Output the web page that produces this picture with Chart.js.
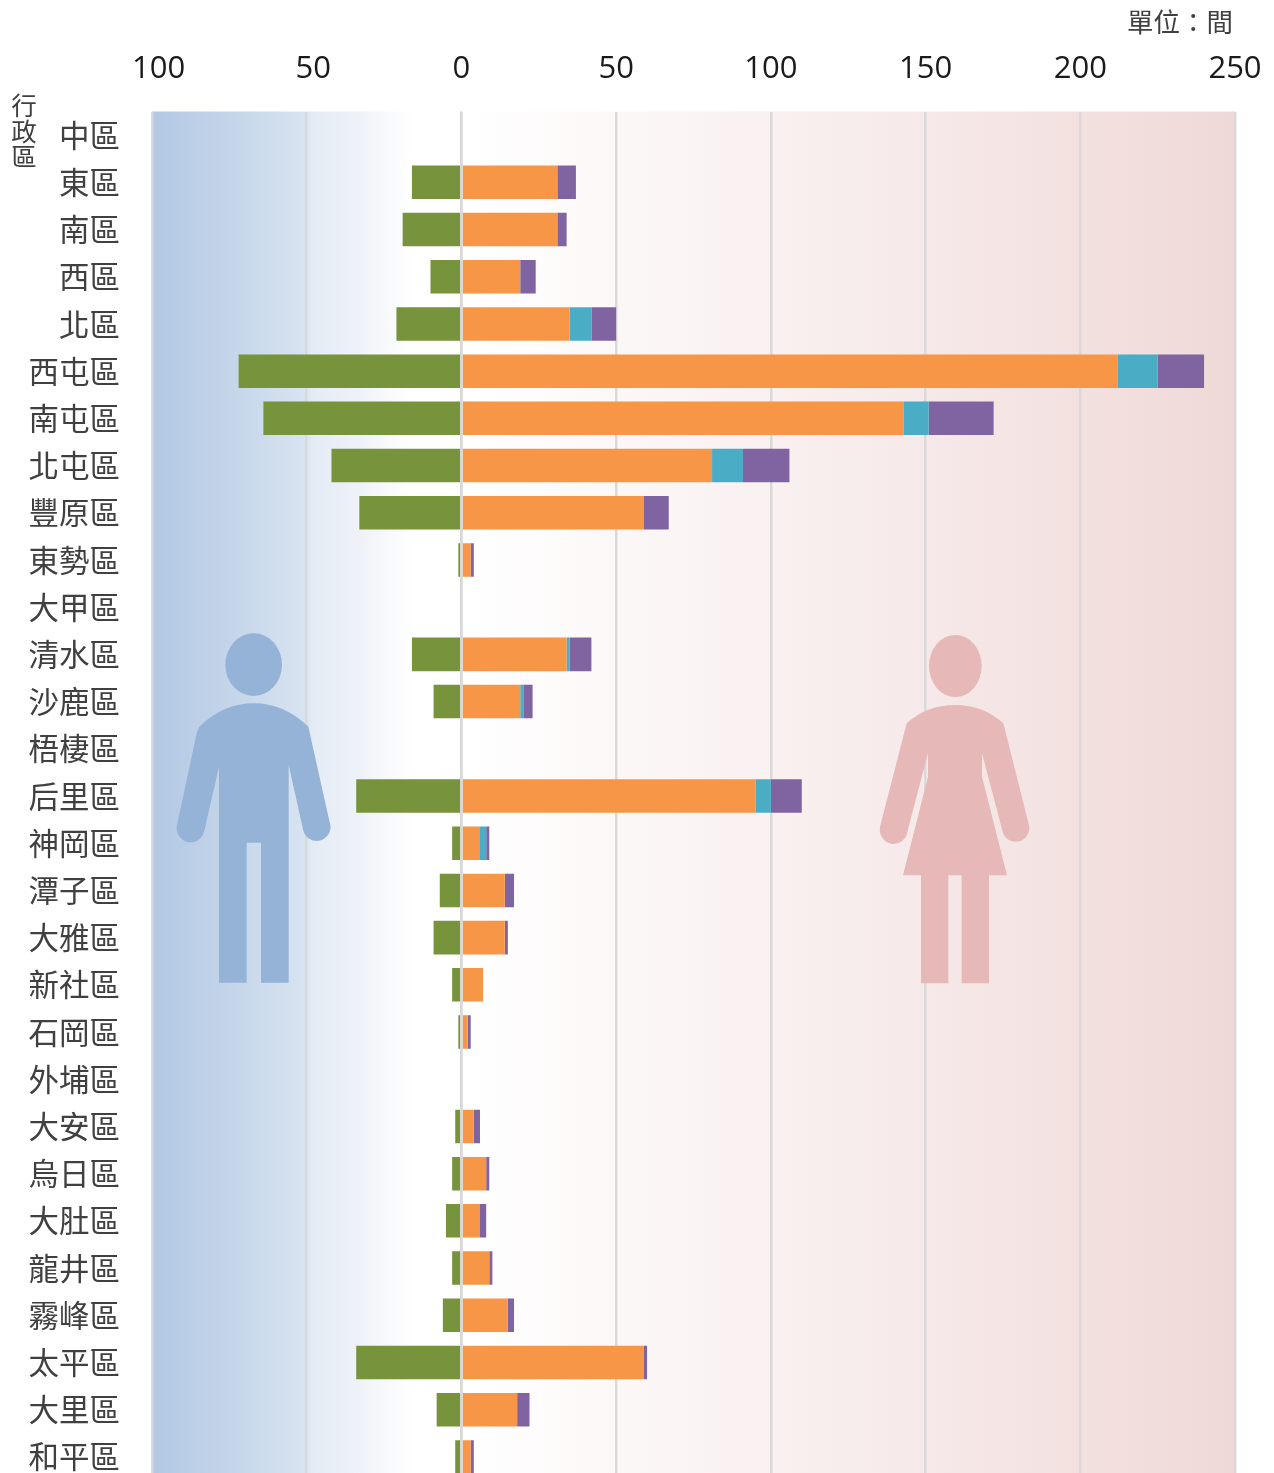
<!DOCTYPE html>
<html lang="zh-Hant">
<head>
<meta charset="utf-8">
<title>行政區 單位：間</title>
<script src="https://cdn.jsdelivr.net/npm/chart.js@4/dist/chart.umd.min.js"></script>
<style>
html, body { margin: 0; padding: 0; background: #fff; }
body { position: relative; width: 1274px; height: 1473px; overflow: hidden; }
canvas { position: absolute; left: 0; top: 0; }
.note { position: absolute; color: #404040; font-family: "Noto Sans CJK TC", sans-serif; line-height: 1; white-space: nowrap; }
#unit { left: 1127px; top: 8px; font-size: 26.5px; }
#axisName { left: 11px; top: 93px; font-size: 25.5px; writing-mode: vertical-rl; }
</style>
</head>
<body>
<canvas id="chart" width="1274" height="1490"></canvas>
<div class="note" id="unit">單位：間</div>
<div class="note" id="axisName">行政區</div>
<script>
/* =====================================
   DATA
===================================== */

const districts = [
    "中區", "東區", "南區", "西區", "北區", "西屯區", "南屯區", "北屯區",
    "豐原區", "東勢區", "大甲區", "清水區", "沙鹿區", "梧棲區", "后里區",
    "神岡區", "潭子區", "大雅區", "新社區", "石岡區", "外埔區", "大安區",
    "烏日區", "大肚區", "龍井區", "霧峰區", "太平區", "大里區", "和平區"
];

const greenValues = [
    0, -16, -19, -10, -21, -72, -64, -42, -33, -1, 0, -16, -9, 0, -34,
    -3, -7, -9, -3, -1, 0, -2, -3, -5, -3, -6, -34, -8, -2
];

const orangeValues = [
    0, 31, 31, 19, 35, 212, 143, 81, 59, 3, 0, 34, 19, 0, 95,
    6, 14, 14, 7, 2, 0, 4, 8, 6, 9, 15, 59, 18, 3
];

const tealValues = [
    0, 0, 0, 0, 7, 13, 8, 10, 0, 0, 0, 1, 1, 0, 5,
    2, 0, 0, 0, 0, 0, 0, 0, 0, 0, 0, 0, 0, 0
];

const purpleValues = [
    0, 6, 3, 5, 8, 15, 21, 15, 8, 1, 0, 7, 3, 0, 10,
    1, 3, 1, 0, 1, 0, 2, 1, 2, 1, 2, 1, 4, 1
];

/* =====================================
   BACKGROUND AND FIGURES
===================================== */

const backdrop = {
    id: "backdrop",
    beforeDraw(chart){
        const { ctx, chartArea: a } = chart;
        const g = ctx.createLinearGradient(a.left, 0, a.right, 0);
        g.addColorStop(0, "#b1c7e3");
        g.addColorStop(0.14, "#d7e3f0");
        g.addColorStop(0.15, "#e5ecf6");
        g.addColorStop(0.19, "#eef2f8");
        g.addColorStop(0.24, "#ffffff");
        g.addColorStop(0.29, "#ffffff");
        g.addColorStop(0.44, "#fcf7f7");
        g.addColorStop(0.73, "#f6e8e8");
        g.addColorStop(1, "#efd9d7");
        ctx.save();
        ctx.fillStyle = g;
        ctx.fillRect(a.left, a.top, a.width, a.height);
        ctx.restore();
    }
};

const manBody = new Path2D("M118 320 Q190 250 281 250 Q372 250 445 320 L512 620 A42 44 0 0 1 430 632 L386 435 L386 1088 L303 1088 L303 668 L260 668 L260 1088 L177 1088 L177 440 L133 632 A42 44 0 0 1 50 620 L110 340 Z");
const womanBody = new Path2D("M140 310 Q200 255 285 255 Q370 255 430 310 L508 620 A41 44 0 0 1 428 635 L366 400 L366 470 L441 766 L387 766 L387 1090 L305 1090 L305 766 L265 766 L265 1090 L183 1090 L183 766 L129 766 L204 470 L204 400 L142 635 A41 44 0 0 1 60 620 Z");

function drawFigure(ctx, x, y, color, body, headX, headY, headRx, headRy){
    ctx.save();
    ctx.translate(x, y);
    ctx.scale(1 / 3, 1 / 3);
    ctx.fillStyle = color;
    ctx.beginPath();
    ctx.ellipse(headX, headY, headRx, headRy, 0, 0, Math.PI * 2);
    ctx.fill();
    ctx.fill(body);
    ctx.restore();
}

const figures = {
    id: "figures",
    beforeDatasetsDraw(chart){
        drawFigure(chart.ctx, 160, 620, "#95b3d7", manBody, 281, 134, 85, 94);
        drawFigure(chart.ctx, 860, 620, "#e6b8b7", womanBody, 286, 138, 79, 93);
    }
};

/* zero line sits over the bars, the other grid lines under them */
const zeroLine = {
    id: "zeroLine",
    afterDatasetsDraw(chart){
        const { ctx, chartArea: a, scales } = chart;
        const x = scales.x.getPixelForValue(0);
        ctx.save();
        ctx.strokeStyle = "#d9d9d9";
        ctx.lineWidth = 2.5;
        ctx.beginPath();
        ctx.moveTo(x, a.top);
        ctx.lineTo(x, a.bottom);
        ctx.stroke();
        ctx.restore();
    }
};

/* =====================================
   CHART
===================================== */

function barSet(data, color){
    return {
        data: data,
        backgroundColor: color,
        borderWidth: 0,
        barPercentage: 0.71,
        categoryPercentage: 1
    };
}

/* tick labels must not push the plot area in */
function noScalePadding(scale){
    scale.paddingLeft = 0;
    scale.paddingRight = 0;
    scale.paddingTop = 0;
    scale.paddingBottom = 0;
}

new Chart(document.getElementById("chart").getContext("2d"), {
    type: "bar",
    data: {
        labels: districts,
        datasets: [
            barSet(greenValues, "#77933c"),
            barSet(orangeValues, "#f79646"),
            barSet(tealValues, "#4bacc6"),
            barSet(purpleValues, "#8064a2")
        ]
    },
    plugins: [backdrop, figures, zeroLine],
    options: {
        indexAxis: "y",
        responsive: false,
        animation: false,
        devicePixelRatio: 1,
        layout: { padding: { left: 0, right: 39, top: 0, bottom: 9.5 } },
        plugins: {
            legend: { display: false },
            tooltip: { enabled: false }
        },
        scales: {
            x: {
                position: "top",
                stacked: true,
                min: -100,
                max: 250,
                afterFit(scale){
                    scale.height = 111.5;
                    noScalePadding(scale);
                },
                border: { display: false },
                grid: { color: "#d9d9d9", lineWidth: 2.5, drawTicks: false },
                ticks: {
                    stepSize: 50,
                    maxRotation: 0,
                    autoSkip: false,
                    padding: 23.5,
                    color: "#1a1a1a",
                    font: { family: "'Open Sans'", size: 31 },
                    /* the source keeps a hidden minus sign, so negatives sit a little right */
                    callback: v => v < 0 ? " \u2009" + Math.abs(v) : String(v)
                }
            },
            y: {
                stacked: true,
                afterFit(scale){
                    scale.width = 152;
                    noScalePadding(scale);
                },
                border: { display: false },
                grid: { display: false, drawTicks: false },
                ticks: {
                    autoSkip: false,
                    padding: 32,
                    color: "#404040",
                    font: { family: "'Noto Sans CJK TC'", size: 30.5 }
                }
            }
        }
    }
});
</script>
</body>
</html>
